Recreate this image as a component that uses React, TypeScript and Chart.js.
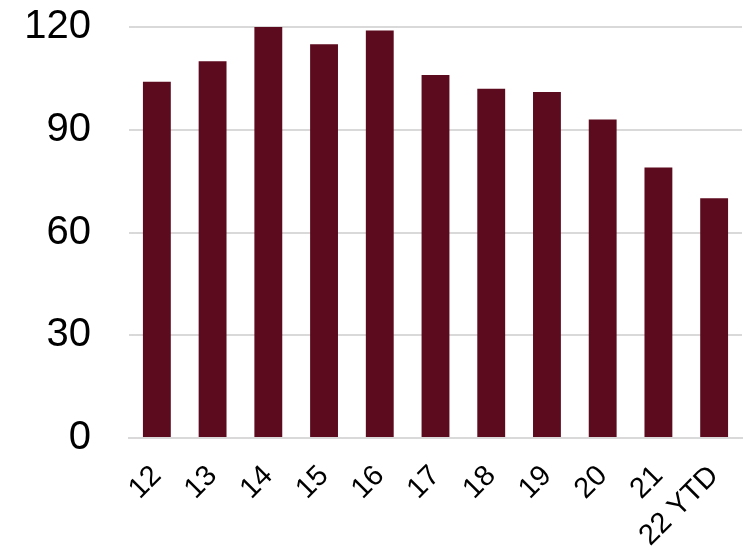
import React, { useEffect, useRef } from "react";
import { Chart, registerables } from "chart.js";

Chart.register(...registerables);

const categories = ["12", "13", "14", "15", "16", "17", "18", "19", "20", "21", "22 YTD"];
const values = [104, 110, 120, 115, 119, 106, 102, 101, 93, 79, 70];
const yTicks = [0, 30, 60, 90, 120];

export default function App() {
  const ref = useRef<HTMLCanvasElement | null>(null);
  useEffect(() => {
    if (!ref.current) return;
    const chart = new Chart(ref.current, {
      type: "bar",
      data: {
        labels: categories,
        datasets: [
          {
            data: values,
            backgroundColor: "#5c0a1d",
            borderWidth: 0,
            barPercentage: 0.5,
            categoryPercentage: 1,
          },
        ],
      },
      options: {
        animation: false,
        responsive: false,
        maintainAspectRatio: false,
        layout: { padding: { left: 24, right: 9, top: 0, bottom: 0 } },
        plugins: { legend: { display: false }, tooltip: { enabled: false } },
        scales: {
          x: {
            offset: true,
            grid: { display: false, drawTicks: false },
            border: { display: true, color: "#d9d9d9", width: 2 },
            afterFit: (axis: any) => {
              axis.height = 118;
              axis.paddingLeft = 0;
              axis.paddingRight = 0;
            },
            ticks: {
              color: "#000",
              font: { family: "Liberation Sans, Arial, sans-serif", size: 29 },
              minRotation: 45,
              maxRotation: 45,
              padding: 21,
              autoSkip: false,
            },
          },
          y: {
            min: 0,
            max: 120,
            afterBuildTicks: (axis: any) => {
              axis.ticks = yTicks.map((v) => ({ value: v }));
            },
            afterFit: (axis: any) => {
              axis.width = 105;
              axis.paddingTop = 27;
              axis.paddingBottom = 0;
            },
            grid: { color: "#d9d9d9", lineWidth: 2, drawTicks: false },
            border: { display: false },
            ticks: {
              color: "#000",
              font: { family: "Liberation Sans, Arial, sans-serif", size: 40 },
              padding: 38,
            },
          },
        },
      },
    });
    return () => chart.destroy();
  }, []);
  return (
    <div style={{ position: "fixed", left: 0, top: 0, width: 751, height: 556, background: "#fff" }}>
      <canvas ref={ref} width={751} height={556} />
    </div>
  );
}
